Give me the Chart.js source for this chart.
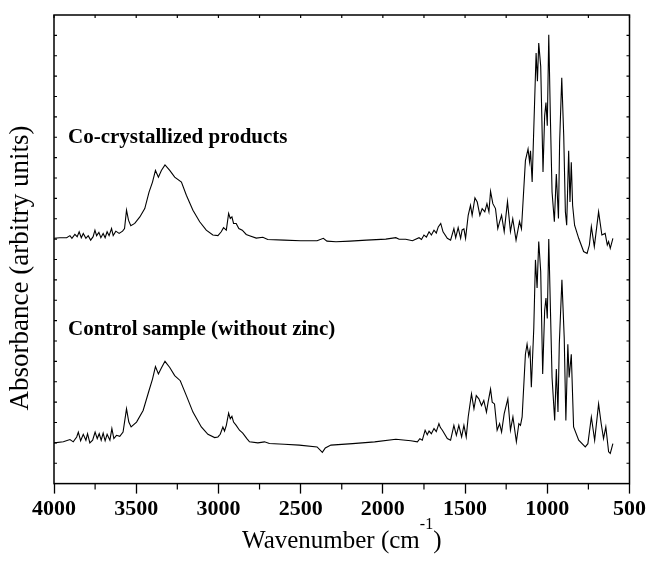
<!DOCTYPE html>
<html>
<head>
<meta charset="utf-8">
<script src="https://cdn.jsdelivr.net/npm/chart.js@4"></script>
<style>
  body { margin: 0; background: #fff; }
  #wrap { width: 649px; height: 568px; }
</style>
</head>
<body>
<div id="wrap"><canvas id="myChart"></canvas></div>
<script>
// ----------------------- DADOS -----------------------
// espectro superior (co-cristalizado)
const wnTop = [4000, 3964, 3923, 3903, 3891, 3873, 3859, 3847, 3834, 3822, 3806, 3792, 3777, 3762, 3751, 3741,
  3727, 3715, 3701, 3689, 3677, 3665, 3650, 3640, 3624, 3604, 3583, 3571, 3559, 3547, 3533, 3509, 3478, 3448,
  3422, 3401, 3383, 3365, 3347, 3325, 3296, 3266, 3225, 3195, 3155, 3114, 3074, 3034, 3003, 2983, 2969, 2952,
  2938, 2928, 2918, 2908, 2892, 2876, 2855, 2831, 2811, 2770, 2730, 2700, 2600, 2500, 2400, 2362, 2340, 2285,
  2200, 2100, 1982, 1921, 1901, 1861, 1820, 1780, 1765, 1750, 1735, 1719, 1705, 1689, 1675, 1663, 1648, 1634,
  1608, 1588, 1568, 1557, 1542, 1527, 1518, 1507, 1497, 1481, 1467, 1457, 1440, 1426, 1410, 1396, 1380, 1367,
  1355, 1345, 1331, 1315, 1301, 1290, 1278, 1262, 1242, 1224, 1210, 1190, 1169, 1157, 1133, 1117, 1108, 1102,
  1092, 1068, 1060, 1052, 1040, 1026, 1016, 1008, 1000, 991, 981, 971, 957, 945, 932, 925, 912, 900, 890, 882,
  870, 862, 854, 846, 834, 809, 779, 758, 744, 732, 714, 688, 668, 648, 635, 627, 617, 601];
const absTop = [12.04, 12.07, 12.07, 12.17, 12.04, 12.23, 12.12, 12.36, 12.07, 12.28, 12.04, 12.17, 11.95, 12.12, 12.44, 12.17,
  12.33, 12.07, 12.28, 12.07, 12.36, 12.17, 12.52, 12.17, 12.39, 12.28, 12.39, 12.52, 13.42, 12.93, 12.66, 12.77, 13.09, 13.5,
  14.31, 14.8, 15.37, 15.04, 15.37, 15.64, 15.37, 15.04, 14.8, 14.15, 13.42, 12.85, 12.44, 12.2, 12.17, 12.36, 12.56, 12.44,
  13.26, 13.01, 13.09, 12.77, 12.77, 12.52, 12.44, 12.23, 12.17, 12.05, 12.09, 11.98, 11.95, 11.92, 11.92, 12.04, 11.9, 11.87,
  11.9, 11.95, 12.0, 12.07, 11.99, 11.99, 11.92, 12.07, 11.98, 12.2, 12.1, 12.36, 12.2, 12.44, 12.3, 12.6, 12.77, 12.36,
  12.04, 11.95, 12.52, 12.07, 12.56, 12.04, 12.45, 12.5, 12.04, 13.17, 13.66, 13.17, 14.02, 13.82, 13.17, 13.5, 13.34, 13.74,
  13.34, 14.34, 13.74, 13.5, 12.52, 12.85, 13.17, 12.37, 13.84, 12.37, 13.0, 11.95, 12.86, 12.5, 15.85, 16.42, 15.79, 16.34,
  14.8, 21.13, 19.75, 21.62, 20.48, 15.29, 18.05, 18.7, 17.56, 22.03, 17.89, 14.31, 12.85, 15.2, 13.01, 16.75, 19.92, 17.07, 13.34, 12.68,
  16.34, 13.82, 15.77, 13.66, 12.68, 12.04, 11.39, 11.3, 11.71, 12.61, 11.63, 13.34, 12.2, 12.28, 11.71, 11.88, 11.55, 12.04];

// espectro inferior (controle sem zinco)
const wnBottom = [4000, 3943, 3903, 3883, 3862, 3852, 3838, 3822, 3806, 3796, 3782, 3765, 3750, 3737, 3725, 3713,
  3701, 3689, 3677, 3660, 3648, 3636, 3620, 3600, 3580, 3559, 3545, 3531, 3498, 3458, 3422, 3401, 3383, 3365,
  3347, 3325, 3296, 3266, 3232, 3195, 3155, 3104, 3064, 3023, 3003, 2989, 2973, 2963, 2952, 2938, 2928, 2918,
  2908, 2892, 2872, 2852, 2827, 2811, 2760, 2720, 2690, 2600, 2508, 2400, 2368, 2350, 2316, 2184, 2050, 1921,
  1861, 1830, 1790, 1775, 1760, 1743, 1730, 1719, 1705, 1689, 1675, 1659, 1650, 1638, 1608, 1588, 1568, 1553,
  1538, 1521, 1507, 1493, 1481, 1461, 1446, 1432, 1416, 1400, 1386, 1370, 1360, 1345, 1335, 1321, 1305, 1290,
  1278, 1262, 1240, 1224, 1209, 1188, 1173, 1163, 1153, 1133, 1123, 1113, 1105, 1097, 1082, 1072, 1062, 1052,
  1040, 1028, 1016, 1008, 1000, 991, 971, 955, 945, 935, 927, 911, 897, 887, 875, 867, 854, 840, 809, 769, 753,
  732, 712, 688, 672, 658, 644, 627, 617, 601];
const absBottom = [2.0, 2.05, 2.16, 2.05, 2.29, 2.53, 2.1, 2.42, 2.13, 2.45, 2.0, 2.13, 2.53, 2.21, 2.45, 2.13,
  2.48, 2.1, 2.42, 2.13, 2.7, 2.21, 2.37, 2.32, 2.53, 3.67, 3.02, 2.78, 3.02, 3.59, 4.57, 5.13, 5.74, 5.38,
  5.67, 6.0, 5.7, 5.3, 5.05, 4.32, 3.51, 2.78, 2.42, 2.26, 2.29, 2.42, 2.78, 2.58, 2.86, 3.46, 3.18, 3.3,
  3.02, 2.86, 2.62, 2.48, 2.21, 2.05, 2.0, 2.05, 1.97, 1.93, 1.89, 1.8, 1.53, 1.75, 1.89, 1.96, 2.05, 2.18,
  2.13, 2.1, 2.05, 2.2, 2.13, 2.62, 2.4, 2.58, 2.45, 2.7, 2.55, 2.94, 2.75, 2.62, 2.21, 2.13, 2.86, 2.37,
  2.86, 2.29, 2.86, 2.29, 3.27, 4.4, 3.67, 4.32, 4.16, 3.83, 4.08, 3.51, 4.0, 4.64, 4.0, 3.91, 2.62, 2.94,
  2.53, 3.43, 4.16, 2.62, 3.27, 2.05, 2.94, 2.86, 3.27, 6.35, 6.84, 6.27, 6.59, 4.73, 7.65, 10.98, 9.6, 11.88,
  10.41, 5.38, 8.5, 9.11, 8.1, 12.0, 5.21, 3.1, 5.62, 3.51, 6.84, 10.0, 7.16, 3.1, 6.84, 5.21, 6.35, 2.78, 2.13, 1.8, 1.96,
  3.27, 2.13, 3.91, 2.94, 2.21, 2.78, 1.56, 1.48, 1.96];

// textos das curvas
const annTexts = ['Co-crystallized products', 'Control sample (without zinc)'];
const annX = [3915, 3915];
const annY = [16.7, 7.3];

const xMin = 500, xMax = 4000, xStep = 250;
const yMin = 0, yMax = 23;

// ----------------------- PLUGIN (moldura, ticks menores, textos) -----------------------
const moldura = {
  id: 'moldura',
  afterDraw(chart) {
    const { ctx, chartArea: a, scales: { x, y } } = chart;
    ctx.save();
    ctx.strokeStyle = '#000';
    ctx.lineWidth = 1.5;
    ctx.strokeRect(a.left, a.top, a.right - a.left, a.bottom - a.top);

    ctx.lineWidth = 1.2;
    ctx.beginPath();
    for (let v = xMin; v <= xMax; v += xStep) {
      const px = x.getPixelForValue(v);
      ctx.moveTo(px, a.top);
      ctx.lineTo(px, a.top + 3);
      if (v % 500 !== 0) {
        ctx.moveTo(px, a.bottom);
        ctx.lineTo(px, a.bottom + 6);
      }
    }
    for (let v = yMin + 1; v < yMax; v++) {
      const py = y.getPixelForValue(v);
      ctx.moveTo(a.left, py);
      ctx.lineTo(a.left + 3, py);
      ctx.moveTo(a.right, py);
      ctx.lineTo(a.right - 3, py);
    }
    ctx.stroke();

    // nomes das amostras
    ctx.fillStyle = '#000';
    ctx.font = 'bold 21px "Liberation Serif"';
    ctx.textAlign = 'left';
    ctx.textBaseline = 'alphabetic';
    annTexts.forEach((t, i) => {
      ctx.fillText(t, x.getPixelForValue(annX[i]), y.getPixelForValue(annY[i]));
    });

    // titulo do eixo y
    ctx.save();
    ctx.translate(28, 268);
    ctx.rotate(-Math.PI / 2);
    ctx.textAlign = 'center';
    ctx.font = '27px "Liberation Serif"';
    ctx.fillText('Absorbance (arbitry units)', 0, 0);
    ctx.restore();

    // titulo do eixo x com sobrescrito
    const main = 'Wavenumber (cm', sup = '-1', tail = ')';
    ctx.font = '25px "Liberation Serif"';
    const wMain = ctx.measureText(main).width;
    const wTail = ctx.measureText(tail).width;
    ctx.font = '16px "Liberation Serif"';
    const wSup = ctx.measureText(sup).width;
    let sx = (a.left + a.right) / 2 - (wMain + wSup + wTail) / 2;
    const base = 548;
    ctx.font = '25px "Liberation Serif"';
    ctx.fillText(main, sx, base);
    sx += wMain;
    ctx.font = '16px "Liberation Serif"';
    ctx.fillText(sup, sx, base - 19);
    sx += wSup;
    ctx.font = '25px "Liberation Serif"';
    ctx.fillText(tail, sx, base);
    ctx.restore();
  }
};

// ----------------------- GRÁFICO -----------------------
const ctx = document.getElementById('myChart');
const data = {
  datasets: [{
    label: 'Co-crystallized products',
    data: wnTop.map((w, i) => ({ x: w, y: absTop[i] })),
    borderColor: '#000',
    borderWidth: 1.1,
    pointRadius: 0,
    fill: false
  }, {
    label: 'Control sample (without zinc)',
    data: wnBottom.map((w, i) => ({ x: w, y: absBottom[i] })),
    borderColor: '#000',
    borderWidth: 1.1,
    pointRadius: 0,
    fill: false
  }]
};

new Chart(ctx, {
  type: 'line',
  data: data,
  plugins: [moldura],
  options: {
    responsive: true,
    maintainAspectRatio: false,
    animation: false,
    layout: { padding: { left: 54, right: 19, top: 15, bottom: 42 } },
    plugins: { legend: { display: false }, tooltip: { enabled: false } },
    scales: {
      x: {
        type: 'linear',
        reverse: true,
        min: xMin,
        max: xMax,
        border: { display: false },
        grid: {
          drawOnChartArea: false,
          drawTicks: true,
          tickLength: 10,
          tickWidth: 1.3,
          tickColor: c => (c.tick && c.tick.value % 500 === 0) ? '#000' : 'rgba(0,0,0,0)'
        },
        ticks: {
          stepSize: xStep,
          autoSkip: false,
          maxRotation: 0,
          padding: 3,
          color: '#000',
          font: { family: '"Liberation Serif"', size: 22, weight: 'bold' },
          callback: v => (v % 500 === 0 ? v : '')
        }
      },
      y: {
        min: yMin,
        max: yMax,
        border: { display: false },
        grid: { display: false, drawTicks: false },
        ticks: { display: false, stepSize: 1 },
        title: { display: false }
      }
    }
  }
});
</script>
</body>
</html>
